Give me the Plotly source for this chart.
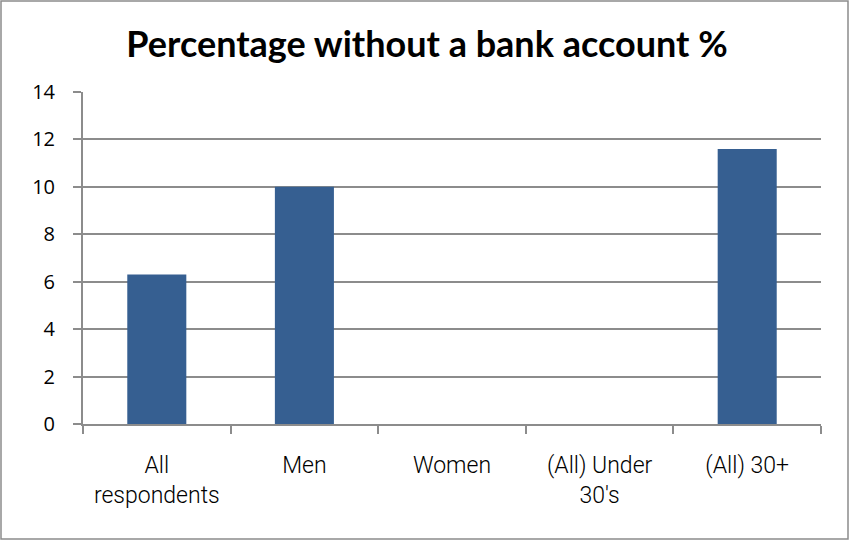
import plotly.graph_objects as go

categories = ["All<br>respondents", "Men", "Women", "(All) Under<br>30's", "(All) 30+"]
values = [6.3, 10.0, 0, 0, 11.6]
y_ticks = [0, 2, 4, 6, 8, 10, 12, 14]

L, R, T, B = 83, 29, 92, 117
W, H = 850, 541
pw, ph = W - L - R, H - T - B

fig = go.Figure(go.Bar(x=categories, y=values, marker=dict(color="#365F91", line=dict(width=0))))

fig.update_layout(
    width=W, height=H,
    margin=dict(l=L, r=R, t=T, b=B),
    paper_bgcolor="white", plot_bgcolor="white",
    bargap=0.6,
    showlegend=False,
    title=dict(text="<b>Percentage without a bank account %</b>", x=(427 - L) / pw, xref="paper",
               xanchor="center", y=1 - 44 / H, yanchor="middle",
               font=dict(family="Lato", size=36, color="black")),
    xaxis=dict(showgrid=False, showline=True, linecolor="#8C8C8C", linewidth=2,
               ticks="outside", ticklen=8, tickcolor="#8C8C8C", tickwidth=1.5,
               tickson="boundaries", ticklabelstandoff=19,
               tickfont=dict(family="Roboto", size=23, weight=300, color="black")),
    yaxis=dict(range=[0, 14], tickvals=y_ticks, showgrid=True, gridcolor="#8C8C8C", gridwidth=1.5,
               showline=True, linecolor="#8C8C8C", linewidth=2,
               ticks="outside", ticklen=8, tickcolor="#8C8C8C", tickwidth=1.5,
               ticklabelstandoff=14, zeroline=False,
               tickfont=dict(family="Open Sans", size=20, color="black")),
)

fig.add_shape(type="rect", xref="paper", yref="paper",
              x0=(1 - L) / pw, x1=(848 - L) / pw,
              y0=(T + ph - 539) / ph, y1=(T + ph - 1) / ph,
              line=dict(color="#8C8C8C", width=1.5), fillcolor="rgba(0,0,0,0)", layer="below")

fig.write_html("out.html", config={"displayModeBar": False},
               post_script="document.body.style.margin='0';document.body.style.overflow='hidden';")
